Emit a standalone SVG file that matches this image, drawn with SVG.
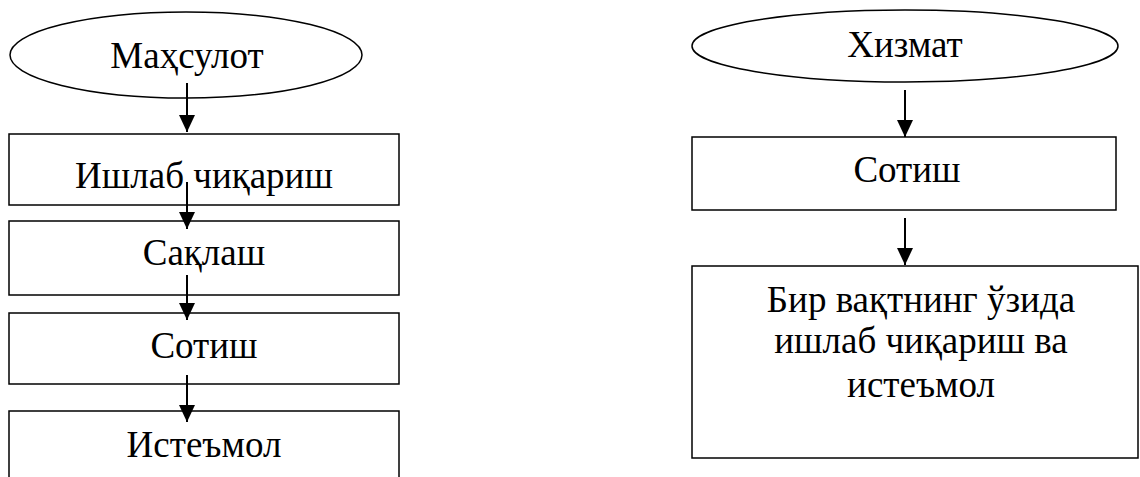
<svg xmlns="http://www.w3.org/2000/svg" width="1140" height="477" viewBox="0 0 1140 477">
<defs>
<style>
.n{fill:#fff;stroke:#000;stroke-width:1.5}
.t{font-family:"Liberation Serif","Times New Roman",serif;font-size:37px;fill:#000;text-anchor:middle}
.c{stroke:#000;stroke-width:2;fill:none;marker-end:url(#a)}
</style>
<marker id="a" markerWidth="17" markerHeight="16" refX="17" refY="8" orient="auto" markerUnits="userSpaceOnUse">
<path d="M0,0 L17,8 L0,16 Z" fill="#000"/>
</marker>
</defs>
<rect width="1140" height="477" fill="#fff"/>
<g id="n-mahsulot"><ellipse class="n" cx="186" cy="55" rx="176" ry="43"/><text class="t" x="187" y="68">Маҳсулот</text></g>
<g id="n-ishlab"><rect class="n" x="9" y="134" width="390" height="71"/><text class="t" x="204" y="188">Ишлаб чиқариш</text></g>
<g id="n-saqlash"><rect class="n" x="9" y="221" width="390" height="74"/><text class="t" x="204" y="265">Сақлаш</text></g>
<g id="n-sotish1"><rect class="n" x="9" y="313" width="390" height="71"/><text class="t" x="204" y="358">Сотиш</text></g>
<g id="n-isteymol"><rect class="n" x="9" y="411" width="390" height="80"/><text class="t" x="204" y="457">Истеъмол</text></g>
<g id="n-hizmat"><ellipse class="n" cx="905" cy="46" rx="213" ry="36"/><text class="t" x="905" y="57">Хизмат</text></g>
<g id="n-sotish2"><rect class="n" x="692" y="137" width="424" height="73"/><text class="t" x="907" y="182">Сотиш</text></g>
<g id="n-bir"><rect class="n" x="692" y="266" width="446" height="192"/><text class="t" x="921" y="312">Бир вақтнинг ўзида</text><text class="t" x="921" y="353">ишлаб чиқариш ва</text><text class="t" x="921" y="397">истеъмол</text></g>
<g id="connectors">
<line class="c" x1="187" y1="83" x2="187" y2="132"/>
<line class="c" x1="187" y1="182" x2="187" y2="229"/>
<line class="c" x1="187" y1="275" x2="187" y2="320"/>
<line class="c" x1="187" y1="375" x2="187" y2="422"/>
<line class="c" x1="905" y1="90" x2="905" y2="137"/>
<line class="c" x1="905" y1="218" x2="905" y2="265"/>
</g>
</svg>
